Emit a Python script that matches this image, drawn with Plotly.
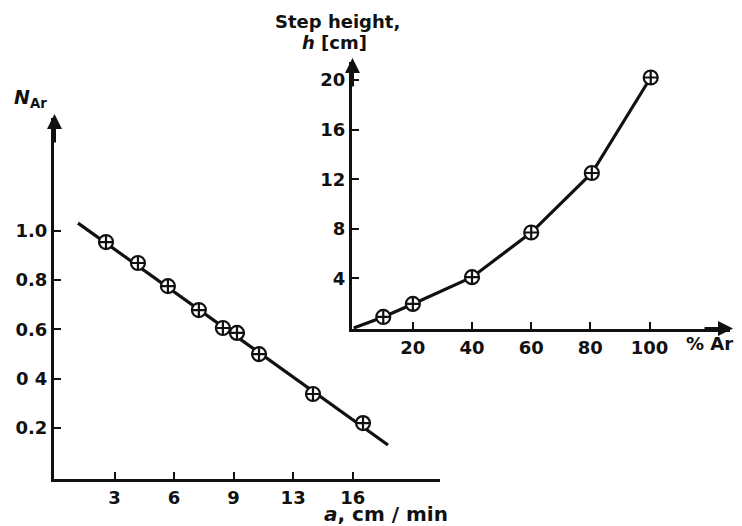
import plotly.graph_objects as go

W, H = 742, 526
OFF = 8  # page body margin of the browser

# ---- Left panel: N_Ar vs a (cm/min) ----
a_vals = [2.57, 4.18, 5.69, 7.25, 8.46, 9.17, 10.28, 13.0, 15.52]
n_ar = [0.954, 0.869, 0.775, 0.678, 0.605, 0.585, 0.499, 0.337, 0.219]
fit_a = [1.16, 16.78]
fit_n = [1.031, 0.130]
a_tickvals = [3, 6, 9, 12, 15]
a_ticktext = ["3", "6", "9", "13", "16"]
n_tickvals = [0.2, 0.4, 0.6, 0.8, 1.0]
n_ticktext = ["0.2", "0 4", "0.6", "0.8", "1.0"]

# ---- Right panel: step height vs %Ar ----
ar_pct = [10, 20, 40, 60, 80.5, 100.4]
step_h = [0.89, 1.94, 4.1, 7.7, 12.5, 20.2]
curve_origin_x = [0]
curve_origin_y = [0]
ar_tickvals = [20, 40, 60, 80, 100]
h_tickvals = [4, 8, 12, 16, 20]


def px(x):
    return (x - OFF) / W


def py(y):
    return 1 - (y - OFF) / H


FONT = "DejaVu Sans"
BLACK = "#111"

fig = go.Figure()

marker = dict(symbol="circle-cross", size=14, color="white",
              line=dict(color=BLACK, width=2.2))

fig.add_trace(go.Scatter(x=fit_a, y=fit_n, mode="lines",
                         line=dict(color=BLACK, width=3.2),
                         xaxis="x", yaxis="y", hoverinfo="skip"))
fig.add_trace(go.Scatter(x=a_vals, y=n_ar, mode="markers", marker=marker,
                         xaxis="x", yaxis="y"))

fig.add_trace(go.Scatter(x=curve_origin_x + ar_pct, y=curve_origin_y + step_h,
                         mode="lines", line=dict(color=BLACK, width=3.2),
                         xaxis="x2", yaxis="y2", hoverinfo="skip"))
fig.add_trace(go.Scatter(x=ar_pct, y=step_h, mode="markers", marker=marker,
                         xaxis="x2", yaxis="y2"))

axis_common = dict(showline=True, linewidth=3, linecolor=BLACK,
                   ticks="inside", ticklen=7, tickwidth=2, tickcolor=BLACK,
                   showgrid=False, zeroline=False, automargin=False,
                   tickfont=dict(family=FONT, size=18, color=BLACK, weight="bold"))

fig.update_layout(
    width=W, height=H,
    margin=dict(l=0, r=0, t=0, b=0, pad=0),
    paper_bgcolor="white", plot_bgcolor="rgba(0,0,0,0)",
    showlegend=False,
    xaxis=dict(domain=[px(54), px(440)], range=[-0.05, 19.4], anchor="y",
               tickmode="array", tickvals=a_tickvals, ticktext=a_ticktext,
               **axis_common),
    yaxis=dict(domain=[py(479), py(118)], range=[-0.008, 1.4576], anchor="x",
               tickmode="array", tickvals=n_tickvals, ticktext=n_ticktext,
               **axis_common),
    xaxis2=dict(domain=[px(352), px(730)], range=[-0.57, 127.2], anchor="y2",
                tickmode="array", tickvals=ar_tickvals,
                ticktext=[str(v) for v in ar_tickvals], **axis_common),
    yaxis2=dict(domain=[py(329), py(62)], range=[-0.08, 21.45], anchor="x2",
                tickmode="array", tickvals=h_tickvals,
                ticktext=[str(v) for v in h_tickvals], **axis_common),
)

arrow = dict(text="", showarrow=True, arrowhead=2, arrowsize=1,
             arrowwidth=3, arrowcolor=BLACK, xref="paper", yref="paper")
annotations = [
    dict(x=px(54.5), y=py(114), ax=0, ay=30, **arrow),
    dict(x=px(352.5), y=py(58), ax=0, ay=30, **arrow),
    dict(x=px(733), y=py(328.5), ax=-30, ay=0, **arrow),
]

label_font = dict(family=FONT, color=BLACK, weight="bold")
lab = dict(xref="paper", yref="paper", showarrow=False,
           xanchor="center", yanchor="middle")
annotations += [
    dict(text="<i>N</i><sub>Ar</sub>", x=px(30), y=py(98),
         font=dict(size=19, **label_font), **lab),
    dict(text="<i>a</i>, cm / min", x=px(386), y=py(514),
         font=dict(size=20, **label_font), **lab),
    dict(text="Step height,", x=px(337), y=py(21),
         font=dict(size=18, **label_font), **lab),
    dict(text="<i>h</i> [cm]", x=px(334), y=py(43),
         font=dict(size=18, **label_font), **lab),
    dict(text="% Ar", x=px(709), y=py(343),
         font=dict(size=18, **label_font), **lab),
]
fig.update_layout(annotations=annotations)

fig.write_html("out.html")
